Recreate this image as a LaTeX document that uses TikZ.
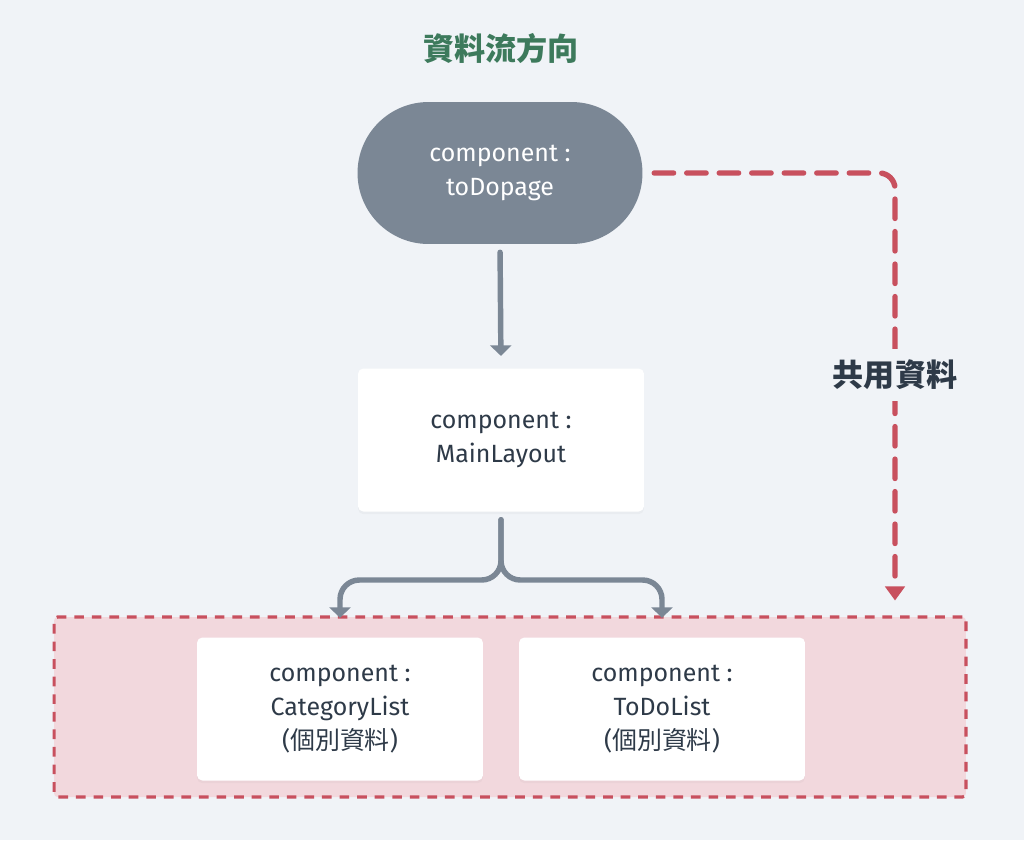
\documentclass[tikz,border=0pt]{standalone}
\usepackage{fontspec}
\setmainfont{Fira Sans}
\newfontfamily\cjk{Noto Sans CJK TC}
\usetikzlibrary{arrows.meta,shadows}
\definecolor{bgcol}{HTML}{F0F3F7}
\definecolor{slate}{HTML}{7B8795}
\definecolor{shared}{HTML}{C8505E}
\definecolor{sharedfill}{HTML}{F2D8DD}
\definecolor{titlegreen}{HTML}{3D7A5C}
\definecolor{ink}{HTML}{2E3A48}
\begin{document}
\begin{tikzpicture}[x=0.02cm, y=-0.02cm]
	    \tikzset{
	        comp/.style={fill=white, rounded corners=3pt, minimum width=5.72cm, minimum height=2.86cm,
	            align=center, text=ink, font=\fontsize{14.2}{19.5}\selectfont,
	            drop shadow={opacity=0.06, shadow xshift=0pt, shadow yshift=-1.5pt}},
	        flow/.style={draw=slate, line width=3.1pt, line cap=round, -{Triangle[width=12pt,length=6pt]}},
	        sharedline/.style={draw=shared, line width=3.1pt, line cap=round, dash pattern=on 11pt off 7.5pt,
	            -{Triangle[width=11pt,length=8pt]}}
	    }
	    \fill[bgcol] (0,0) rectangle (1024,840);
	    \useasboundingbox (0,0) rectangle (1024,840);
	    % shared area
	    \node[draw=shared, fill=sharedfill, line width=1.8pt, dash pattern=on 5.5pt off 4.5pt, rounded corners=2pt,
	        minimum width=18.24cm, minimum height=3.6cm] (area) at (510,707) {};
	    \node[font=\cjk\bfseries\fontsize{17.7}{20}\selectfont, text=titlegreen] (title) at (501,48) {資料流方向};
	    \node[fill=slate, rounded corners=1.42cm, minimum width=5.7cm, minimum height=2.84cm, align=center,
	        text=white, font=\fontsize{14.2}{19.5}\selectfont] (page) at (500,173) {component :\\toDopage};
	    \node[comp] (main) at (501,440) {component :\\MainLayout};
	    \node[comp] (cat) at (340,709) {component :\\CategoryList\\({\cjk 個別資料})};
	    \node[comp] (todo) at (662,709) {component :\\ToDoList\\({\cjk 個別資料})};
	    \coordinate (split) at (501,580);
	    \coordinate (turn) at (895,173);
	    \draw[flow, shorten <=4.5pt, shorten >=7pt] (page.south) -- (main.north);
	    \draw[flow, rounded corners=11pt, shorten <=4.5pt, shorten >=11pt] (main.south) -- (split) -| (cat.north);
	    \draw[flow, rounded corners=11pt, shorten <=4.5pt, shorten >=11pt] (main.south) -- (split) -| (todo.north);
	    \draw[sharedline, rounded corners=9pt, shorten <=6.5pt, shorten >=8.5pt] (page.east) -- (turn) -- (turn |- area.north);
	    \node[fill=bgcol, inner xsep=1pt, inner ysep=6pt, text=ink, font=\cjk\bfseries\fontsize{17.7}{20}\selectfont] (sharelabel) at (895,375) {共用資料};
	    \end{tikzpicture}
\end{document}
